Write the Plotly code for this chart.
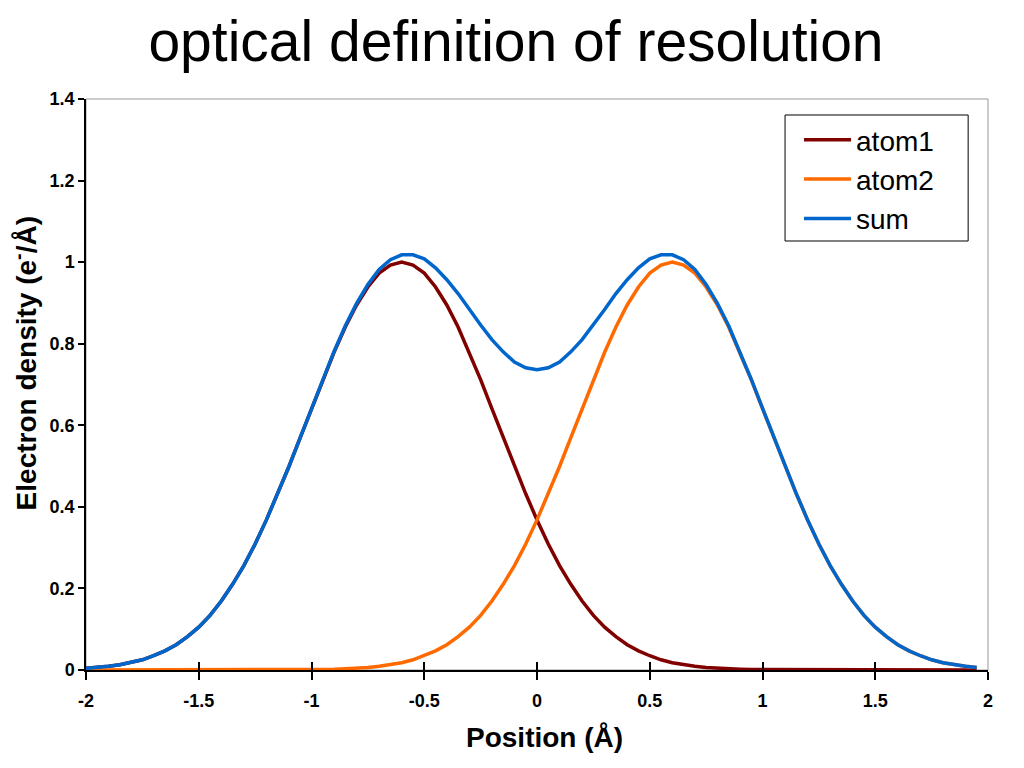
import plotly.graph_objects as go

positions = [-2.00, -1.95, -1.90, -1.85, -1.80, -1.75, -1.70, -1.65, -1.60, -1.55,
             -1.50, -1.45, -1.40, -1.35, -1.30, -1.25, -1.20, -1.15, -1.10, -1.05,
             -1.00, -0.95, -0.90, -0.85, -0.80, -0.75, -0.70, -0.65, -0.60, -0.55,
             -0.50, -0.45, -0.40, -0.35, -0.30, -0.25, -0.20, -0.15, -0.10, -0.05,
             0.00, 0.05, 0.10, 0.15, 0.20, 0.25, 0.30, 0.35, 0.40, 0.45,
             0.50, 0.55, 0.60, 0.65, 0.70, 0.75, 0.80, 0.85, 0.90, 0.95,
             1.00, 1.05, 1.10, 1.15, 1.20, 1.25, 1.30, 1.35, 1.40, 1.45,
             1.50, 1.55, 1.60, 1.65, 1.70, 1.75, 1.80, 1.85, 1.90, 1.95]

atom1 = [0.004, 0.006, 0.009, 0.013, 0.018, 0.025, 0.035, 0.047, 0.062, 0.082,
         0.105, 0.134, 0.169, 0.210, 0.256, 0.309, 0.368, 0.432, 0.499, 0.570,
         0.641, 0.712, 0.779, 0.841, 0.895, 0.939, 0.973, 0.993, 1.000, 0.993,
         0.973, 0.939, 0.895, 0.841, 0.779, 0.712, 0.641, 0.570, 0.499, 0.432,
         0.368, 0.309, 0.256, 0.210, 0.169, 0.134, 0.105, 0.082, 0.062, 0.047,
         0.035, 0.025, 0.018, 0.013, 0.009, 0.006, 0.004, 0.003, 0.002, 0.001,
         0.001, 0.000, 0.000, 0.000, 0.000, 0.000, 0.000, 0.000, 0.000, 0.000,
         0.000, 0.000, 0.000, 0.000, 0.000, 0.000, 0.000, 0.000, 0.000, 0.000]

atom2 = [0.000, 0.000, 0.000, 0.000, 0.000, 0.000, 0.000, 0.000, 0.000, 0.000,
         0.000, 0.000, 0.000, 0.000, 0.000, 0.000, 0.000, 0.000, 0.000, 0.000,
         0.001, 0.001, 0.002, 0.003, 0.004, 0.006, 0.009, 0.013, 0.018, 0.025,
         0.035, 0.047, 0.062, 0.082, 0.105, 0.134, 0.169, 0.210, 0.256, 0.309,
         0.368, 0.432, 0.499, 0.570, 0.641, 0.712, 0.779, 0.841, 0.895, 0.939,
         0.973, 0.993, 1.000, 0.993, 0.973, 0.939, 0.895, 0.841, 0.779, 0.712,
         0.641, 0.570, 0.499, 0.432, 0.368, 0.309, 0.256, 0.210, 0.169, 0.134,
         0.105, 0.082, 0.062, 0.047, 0.035, 0.025, 0.018, 0.013, 0.009, 0.006]

total = [0.004, 0.006, 0.009, 0.013, 0.018, 0.025, 0.035, 0.047, 0.062, 0.082,
         0.105, 0.134, 0.169, 0.210, 0.256, 0.309, 0.368, 0.432, 0.499, 0.570,
         0.642, 0.713, 0.781, 0.844, 0.899, 0.945, 0.982, 1.006, 1.018, 1.018,
         1.008, 0.986, 0.957, 0.923, 0.884, 0.846, 0.810, 0.780, 0.755, 0.741,
         0.736, 0.741, 0.755, 0.780, 0.810, 0.846, 0.884, 0.923, 0.957, 0.986,
         1.008, 1.018, 1.018, 1.006, 0.982, 0.945, 0.899, 0.844, 0.781, 0.713,
         0.642, 0.570, 0.499, 0.432, 0.368, 0.309, 0.256, 0.210, 0.169, 0.134,
         0.105, 0.082, 0.062, 0.047, 0.035, 0.025, 0.018, 0.013, 0.009, 0.006]

x_ticks = [-2, -1.5, -1, -0.5, 0, 0.5, 1, 1.5, 2]
x_tick_labels = ["-2", "-1.5", "-1", "-0.5", "0", "0.5", "1", "1.5", "2"]
y_ticks = [0, 0.2, 0.4, 0.6, 0.8, 1.0, 1.2, 1.4]
y_tick_labels = ["0", "0.2", "0.4", "0.6", "0.8", "1", "1.2", "1.4"]

series = [("atom1", atom1, "#800000"), ("atom2", atom2, "#FF6A00"), ("sum", total, "#0066CC")]

FONT = "Liberation Sans, Arial, sans-serif"

fig = go.Figure()
for name, vals, color in series:
    fig.add_trace(go.Scatter(x=positions, y=vals, mode="lines", name=name,
                             line=dict(color=color, width=3.5)))

# helper invisible trace so the inner-tick overlay axis is drawn
fig.add_trace(go.Scatter(x=[x_ticks[0]], y=[0], xaxis="x2", mode="markers",
                         marker=dict(opacity=0), showlegend=False, hoverinfo="skip"))

tick_font = dict(family=FONT, size=18, color="black")

fig.update_layout(
    width=1016, height=760,
    paper_bgcolor="white", plot_bgcolor="white",
    margin=dict(l=78, r=36, t=91, b=98),
    title=dict(text="optical definition of resolution", x=0.5, xanchor="center",
               y=0.957, yanchor="middle",
               font=dict(family=FONT, size=57, color="black")),
    xaxis=dict(range=[-2, 2], tickvals=x_ticks,
               ticktext=["<b>" + t + "</b>" for t in x_tick_labels],
               showgrid=False, zeroline=False, showline=True, linecolor="black", linewidth=1.5,
               ticks="outside", ticklen=8, tickcolor="black", tickwidth=1.5,
               tickfont=tick_font, ticklabelstandoff=6),
    xaxis2=dict(range=[-2, 2], overlaying="x", anchor="y", side="bottom",
                tickvals=x_ticks, showticklabels=False, showgrid=False, zeroline=False,
                showline=False, ticks="inside", ticklen=8, tickcolor="black", tickwidth=1.5),
    yaxis=dict(range=[0, 1.4], tickvals=y_ticks,
               ticktext=["<b>" + t + "</b>" for t in y_tick_labels],
               showgrid=False, zeroline=False, showline=True, linecolor="black", linewidth=1.5,
               ticks="outside", ticklen=6, tickcolor="black", tickwidth=1.5,
               tickfont=tick_font),
    annotations=[
        dict(text="<b>Position (Å)</b>", xref="paper", yref="paper", x=0.508, y=-0.119,
             xanchor="center", yanchor="middle", showarrow=False,
             font=dict(family=FONT, size=28, color="black")),
        dict(text="<b>Electron density (e<sup>-</sup>/Å)</b>", xref="paper", yref="paper",
             x=-0.0676, y=0.537, xanchor="center", yanchor="middle", textangle=-90,
             showarrow=False, font=dict(family=FONT, size=28, color="black")),
    ],
    legend=dict(x=0.7905, y=0.972, xanchor="left", yanchor="top",
                bgcolor="rgba(0,0,0,0)", borderwidth=0,
                font=dict(family=FONT, size=28, color="black"),
                itemwidth=47, tracegroupgap=0),
    shapes=[
        dict(type="rect", xref="paper", yref="paper", x0=0, x1=1, y0=0, y1=1,
             line=dict(color="#999999", width=1), layer="below"),
        # legend frame
        dict(type="rect", xref="paper", yref="paper", x0=0.775, x1=0.978, y0=0.7513, y1=0.972,
             line=dict(color="black", width=1), fillcolor="white", layer="above"),
    ],
    showlegend=True,
)

fig.write_html("out.html")
